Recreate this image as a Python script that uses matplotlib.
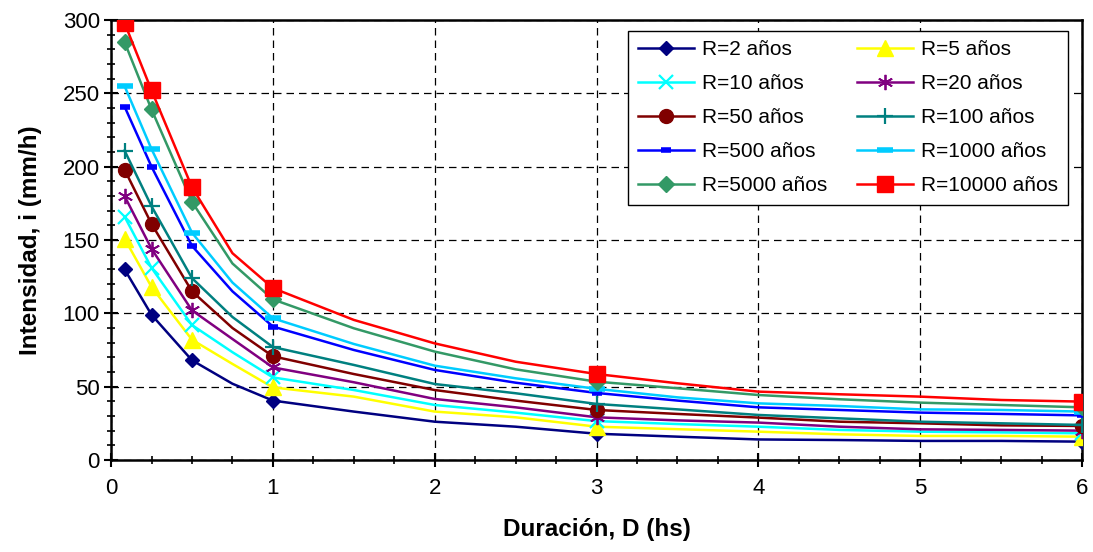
import matplotlib
matplotlib.use("Agg")
import matplotlib.pyplot as plt
from matplotlib.ticker import MultipleLocator

plt.rcParams['font.family'] = ['Liberation Sans', 'DejaVu Sans']

# Duration (hours) at which the curves are drawn
duracion = [0.0833, 0.25, 0.5, 0.75, 1.0, 1.5, 2.0, 2.5, 3.0, 3.5, 4.0, 4.5, 5.0, 5.5, 6.0]
# indices of durations that carry markers (5 min, 15 min, 30 min, 1 h, 3 h, 6 h)
marker_idx = [0, 1, 2, 4, 8, 14]

labels = ["R=2 años", "R=5 años", "R=10 años", "R=20 años", "R=50 años",
          "R=100 años", "R=500 años", "R=1000 años", "R=5000 años", "R=10000 años"]

i_R2     = [130, 99, 68, 52, 40.5, 33, 26.1, 22.7, 17.9, 15.9, 14.0, 13.6, 13.0, 13.0, 12.5]
i_R5     = [151, 118, 82, 65.5, 49.5, 43.2, 33, 29.1, 22.7, 21.0, 19.3, 17.5, 16.4, 16.4, 15.9]
i_R10    = [166, 131, 92, 73.5, 56.3, 47.7, 37.5, 32.3, 26.5, 24.5, 22.7, 20.5, 19.3, 18.8, 18.2]
i_R20    = [180, 144, 102, 82.5, 63.1, 53, 41.6, 35.9, 29.1, 27.0, 25.5, 22.7, 20.9, 20.5, 20.0]
i_R50    = [198, 161, 115, 90, 70.7, 58.6, 47.7, 40.5, 34.1, 31.4, 28.9, 26.1, 25.0, 23.6, 23.2]
i_R100   = [211, 173, 124, 97.5, 77.0, 64.8, 51.8, 45.5, 38.2, 34.5, 30.7, 28.4, 26.1, 25.0, 23.9]
i_R500   = [241, 200, 146, 115, 91.0, 75, 61.4, 52.7, 45.7, 40.5, 35.9, 34.1, 32.3, 31.4, 30.4]
i_R1000  = [255, 212, 155, 121, 96.6, 79.1, 64.3, 55.7, 48.5, 42.7, 38.6, 36.8, 34.5, 34.1, 33.0]
i_R5000  = [285, 239, 176, 134, 109.5, 89.8, 73.9, 61.8, 53.4, 48.9, 44.3, 41.4, 39.1, 37.5, 35.9]
i_R10000 = [298, 252, 186, 141, 117.2, 95.5, 79.5, 67.0, 58.6, 52.3, 46.6, 44.8, 43.2, 40.9, 39.8]

series = [i_R2, i_R5, i_R10, i_R20, i_R50, i_R100, i_R500, i_R1000, i_R5000, i_R10000]
colors = ["#000080", "#FFFF00", "#00FFFF", "#800080", "#800000",
          "#008080", "#0000FF", "#00CCFF", "#339966", "#FF0000"]
markers = ["D", "^", "x", (6, 2, 0), "o", "+", "_", "_", "D", "s"]
msizes = [7.5, 11, 10, 11, 10, 12, 7, 12, 8.5, 11]
mews = [1, 1, 1.6, 1.3, 1, 1.6, 4, 4, 1, 1]

fig = plt.figure(figsize=(10.93, 5.52), dpi=100)
ax = fig.add_axes([0.1016, 0.1667, 0.8884, 0.7971])

handles = []
for vals, c, m, ms, mew, lab in zip(series, colors, markers, msizes, mews, labels):
    h, = ax.plot(duracion, vals, color=c, lw=1.8, marker=m, markersize=ms,
                 markeredgewidth=mew, markevery=marker_idx, markerfacecolor=c,
                 markeredgecolor=c, label=lab, zorder=3)
    handles.append(h)

ax.set_xlim(0, 6)
ax.set_ylim(0, 300)
ax.xaxis.set_major_locator(MultipleLocator(1))
ax.xaxis.set_minor_locator(MultipleLocator(0.25))
ax.yaxis.set_major_locator(MultipleLocator(50))
ax.yaxis.set_minor_locator(MultipleLocator(10))
ax.tick_params(which='major', direction='inout', length=10, width=1.5, labelsize=16)
ax.tick_params(axis='x', which='major', pad=8)
ax.tick_params(axis='y', which='major', pad=3)
ax.tick_params(which='minor', direction='inout', length=6, width=1.2)
ax.grid(True, which='major', color='black', linestyle=(0, (6, 4)), linewidth=0.9, zorder=0)
for s in ax.spines.values():
    s.set_linewidth(1.8)
    s.set_color('black')

ax.set_xlabel("Duración, D (hs)", fontsize=17.5, fontweight='bold', labelpad=14)
ax.set_ylabel("Intensidad, i (mm/h)", fontsize=17.5, fontweight='bold', labelpad=15)

order = [0, 2, 4, 6, 8, 1, 3, 5, 7, 9]
leg = ax.legend([handles[k] for k in order], [labels[k] for k in order], ncol=2,
                loc='upper right', bbox_to_anchor=(0.985, 0.975), borderaxespad=0,
                fontsize=15, frameon=True, fancybox=False, edgecolor='black',
                framealpha=1, handlelength=2.7, labelspacing=0.72, columnspacing=1.4,
                borderpad=0.45, handletextpad=0.4)
leg.get_frame().set_linewidth(1.0)

fig.savefig("out.png", dpi=100)
